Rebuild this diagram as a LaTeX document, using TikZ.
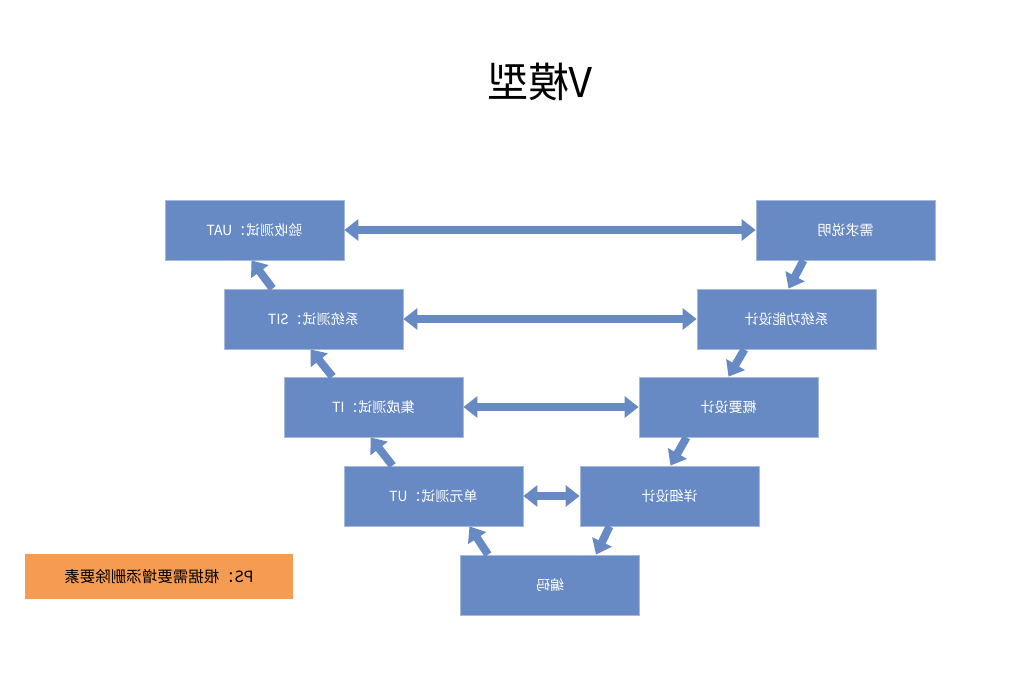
\documentclass[tikz,border=0pt]{standalone}
\usepackage{graphicx}
\usepackage{fontspec}
\setmainfont{Noto Sans CJK SC}
\usetikzlibrary{arrows.meta,calc}
\definecolor{vblue}{RGB}{103,137,196}
\definecolor{vborder}{RGB}{165,185,222}
\definecolor{vorange}{RGB}{245,155,82}
\newcommand{\mirtext}[1]{\scalebox{-1}[1]{#1}}
\begin{document}
\begin{tikzpicture}[x=1pt,y=-1pt,
  vbox/.style={draw=vborder,line width=0.8pt,fill=vblue,minimum width=179pt,minimum height=60pt,inner sep=0pt,text=white,font=\fontsize{14}{16}\selectfont},
  varrow/.style={draw=vblue,line width=8pt,-{Triangle[width=21pt,length=14pt]}},
  vdarrow/.style={draw=vblue,line width=8pt,{Triangle[width=21pt,length=14pt]}-{Triangle[width=21pt,length=14pt]}}]
\useasboundingbox (0,0) rectangle (1035,676);
\fill[white] (0,0) rectangle (1035,676);

\node (title) at (540,82) {\fontsize{41}{45}\selectfont\mirtext{V模型}};

\node[vbox] (uat) at (254.5,230) {\mirtext{验收测试：UAT}};
\node[vbox] (req) at (845.5,230) {\mirtext{需求说明}};
\node[vbox] (sit) at (313.5,319) {\mirtext{系统测试：SIT}};
\node[vbox] (sys) at (786.5,319) {\mirtext{系统功能设计}};
\node[vbox] (it) at (373.5,407) {\mirtext{集成测试：IT}};
\node[vbox] (hl) at (728.5,407) {\mirtext{概要设计}};
\node[vbox] (ut) at (433.5,496) {\mirtext{单元测试：UT}};
\node[vbox] (dd) at (669.5,496) {\mirtext{详细设计}};
\node[vbox] (code) at (550,585) {\mirtext{编码}};

\node[fill=vorange,minimum width=268pt,minimum height=45pt,inner sep=0pt,font=\fontsize{15.5}{18}\selectfont] (ps) at (159,576.5) {\mirtext{PS：根据需要增添删除要素}};

% horizontal double arrows
\draw[vdarrow] (uat.east) -- (req.west);
\draw[vdarrow] (sit.east) -- (sys.west);
\draw[vdarrow] (it.east) -- (hl.west);
\draw[vdarrow] (ut.east) -- (dd.west);

% left side (upward)
\draw[varrow] ([xshift=-41pt]sit.north) -- ([xshift=-3pt]uat.south);
\draw[varrow] ([xshift=-41pt]it.north) -- ([xshift=-3pt]sit.south);
\draw[varrow] ([xshift=-41pt]ut.north) -- ([xshift=-3pt]it.south);
\draw[varrow] ([xshift=-62pt]code.north) -- ([xshift=36pt]ut.south);

% right side (downward)
\draw[varrow] ([xshift=-42pt]req.south) -- ([xshift=2pt]sys.north);
\draw[varrow] ([xshift=-42pt]sys.south) -- ([xshift=0pt]hl.north);
\draw[varrow] ([xshift=-42pt]hl.south) -- ([xshift=1pt]dd.north);
\draw[varrow] ([xshift=-60pt]dd.south) -- ([xshift=46pt]code.north);
\end{tikzpicture}
\end{document}
